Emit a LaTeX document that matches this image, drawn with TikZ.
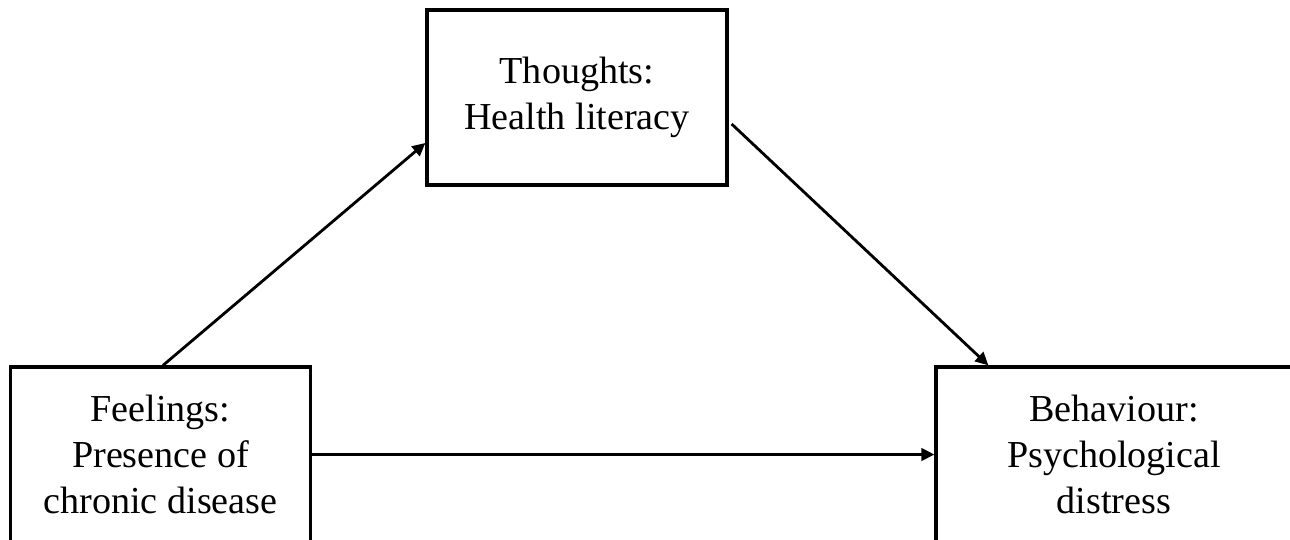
\documentclass[tikz,border=0pt]{standalone}
\usepackage{fontspec}
\setmainfont{Liberation Serif}
\usetikzlibrary{arrows.meta, positioning}
\tikzset{
  box/.style={draw, line width=1.9pt, align=center, font=\fontsize{21.7}{26}\selectfont,
    minimum width=6cm, minimum height=3.5cm, inner sep=0pt},
  arr/.style={-{Triangle[length=2.6mm, width=2.5mm]}, line width=1.6pt},
}
\begin{document}
\begin{tikzpicture}[x=0.02cm, y=-0.02cm]
  \useasboundingbox (0,0) rectangle (1290,539);
  \clip (0,0) rectangle (1290,539);
  \node[box] (thoughts) at (577,97.5) {Thoughts:\\Health literacy};
  \node[box] (feelings) at (160.5,454.5) {Feelings:\\Presence of\\chronic disease};
  \node[box, minimum width=7.12cm] (behaviour) at (1114,454.5) {Behaviour:\\Psychological\\distress};
  \draw[arr] ([xshift=0.05cm]feelings.north) -- ([yshift=-0.91cm]thoughts.west);
  \draw[arr] ([xshift=0.06cm, yshift=-0.53cm]thoughts.east) -- ([xshift=1.08cm]behaviour.north west);
  \draw[arr] (feelings.east) -- (behaviour.west);
\end{tikzpicture}
\end{document}
